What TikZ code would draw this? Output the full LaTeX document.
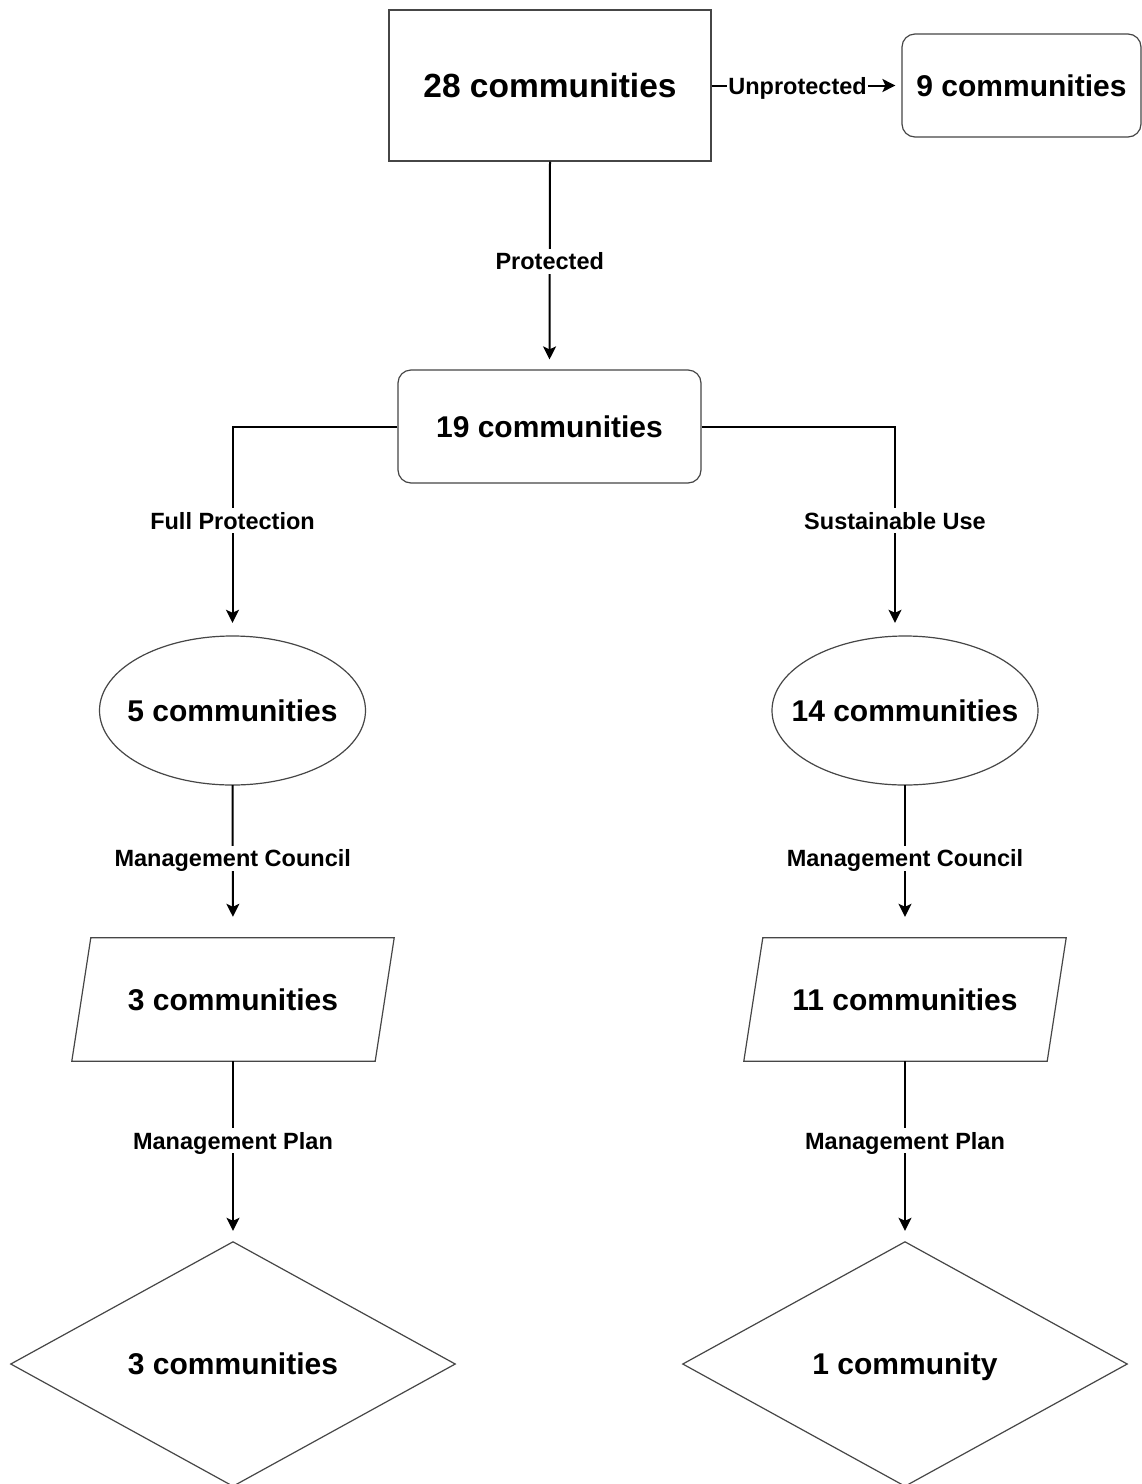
\documentclass[tikz,border=0pt]{standalone}
\usepackage{fontspec}
\setmainfont{Liberation Sans}
\usetikzlibrary{arrows.meta,backgrounds}
\definecolor{edgegray}{RGB}{70,70,70}
\begin{document}
\begin{tikzpicture}[x=1pt,y=-1pt,
  big/.style={font=\fontsize{30}{36}\selectfont\bfseries, text=black, text depth=0pt},
  bigger/.style={font=\fontsize{33.5}{40}\selectfont\bfseries, text=black, text depth=0pt},
  sq/.style={draw=edgegray, line width=1.2pt, fill=white, inner sep=0pt},
  rnd/.style={sq, rounded corners=13pt},
  holder/.style={inner sep=0pt},
  outline/.style={draw=edgegray, line width=1.2pt, fill=white},
  conn/.style={draw=black, line width=2pt, -{Stealth[length=13pt,width=13pt,inset=3pt]}},
  lbl/.style={fill=white, inner xsep=2pt, inner ysep=4pt, text height=17pt, text depth=0pt,
              font=\fontsize{23.5}{28}\selectfont\bfseries, text=black}
]
\useasboundingbox (0,0) rectangle (1142,1484);

% boxes
\node[sq, bigger, minimum width=322pt, minimum height=151pt] (A) at (550,85.5) {28 communities};
\node[rnd, big, minimum width=239pt, minimum height=103pt] (B) at (1021.5,85.5) {9 communities};
\node[rnd, big, minimum width=303pt, minimum height=113pt] (C) at (549.5,426.5) {19 communities};

% ellipses
\node[holder, big, minimum width=266pt, minimum height=149pt] (D) at (232.5,710.5) {5 communities};
\node[holder, big, minimum width=266pt, minimum height=149pt] (E) at (905,710.5) {14 communities};

% parallelograms
\node[holder, big, minimum width=322pt, minimum height=123pt] (F) at (233,999.5) {3 communities};
\node[holder, big, minimum width=322pt, minimum height=123pt] (G) at (905,999.5) {11 communities};

% diamonds
\node[holder, big, minimum width=444pt, minimum height=244pt] (H) at (233,1364) {3 communities};
\node[holder, big, minimum width=444pt, minimum height=244pt] (I) at (905,1364) {1 community};

\begin{scope}[on background layer]
  \fill[white] (0,0) rectangle (1142,1484);
  \draw[outline] (D.center) ellipse [x radius=133pt, y radius=74.5pt];
  \draw[outline] (E.center) ellipse [x radius=133pt, y radius=74.5pt];
  \draw[outline] ([xshift=19pt]F.north west) -- (F.north east) -- ([xshift=-19pt]F.south east) -- (F.south west) -- cycle;
  \draw[outline] ([xshift=19pt]G.north west) -- (G.north east) -- ([xshift=-19pt]G.south east) -- (G.south west) -- cycle;
  \draw[outline] (H.north) -- (H.east) -- (H.south) -- (H.west) -- cycle;
  \draw[outline] (I.north) -- (I.east) -- (I.south) -- (I.west) -- cycle;
\end{scope}

% connectors
\draw[conn, shorten >=6pt] (A.east) -- (B.west);
\draw[conn, shorten >=10pt] (A.south) -- (C.north);
\draw[conn, shorten >=13pt] (C.west) -| (D.north);
\draw[conn, shorten >=13pt] (C.east) -| ([xshift=-10pt]E.north);
\draw[conn, shorten >=21pt] (D.south) -- (F.north);
\draw[conn, shorten >=21pt] (E.south) -- (G.north);
\draw[conn, shorten >=11pt] (F.south) -- (H.north);
\draw[conn, shorten >=11pt] (G.south) -- (I.north);

% connector labels
\path (A.east) -- (B.west) node[lbl, pos=0.453, inner xsep=1.5pt] (lu) {Unprotected};
\path (A.south) -- (C.north) node[lbl, pos=0.48] (lp) {Protected};
\path (C.west) -| (D.north) node[lbl, pos=0.725] (lf) {Full Protection};
\path (C.east) -| ([xshift=-10pt]E.north) node[lbl, pos=0.725] (ls) {Sustainable Use};
\path (D.south) -- (F.north) node[lbl, pos=0.477] (lmc1) {Management Council};
\path (E.south) -- (G.north) node[lbl, pos=0.477] (lmc2) {Management Council};
\path (F.south) -- (H.north) node[lbl, pos=0.44] (lmp1) {Management Plan};
\path (G.south) -- (I.north) node[lbl, pos=0.44] (lmp2) {Management Plan};
\end{tikzpicture}
\end{document}
